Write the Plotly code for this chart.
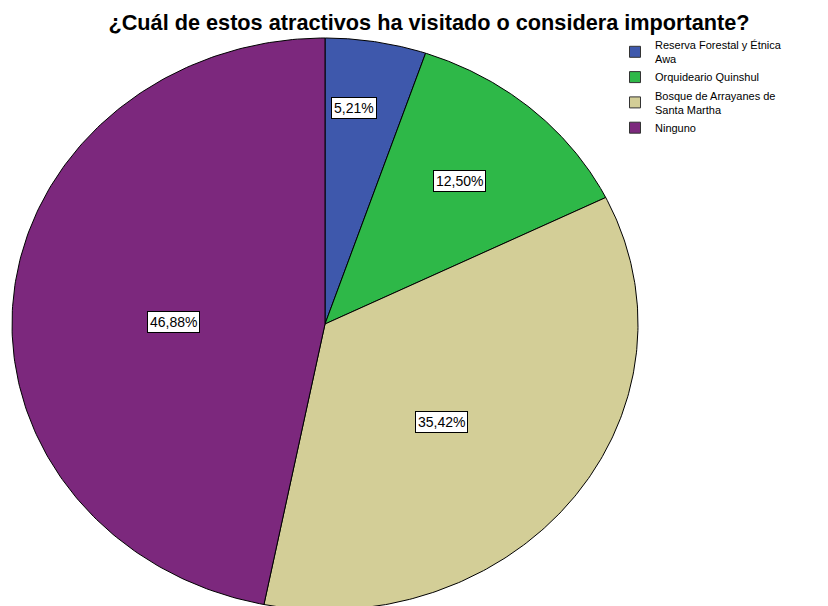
import numpy as np
import plotly.graph_objects as go

# ---- data ----
categories = ["Reserva Forestal y Étnica<br>Awa", "Orquideario Quinshul",
              "Bosque de Arrayanes de<br>Santa Martha", "Ninguno"]
counts = [5, 12, 34, 45]
pct_labels = ["5,21%", "12,50%", "35,42%", "46,88%"]
colors = ["#3E58AC", "#2EB848", "#D3CE97", "#7C287D"]

# ---- geometry (screen pixel space; page has an 8px body offset) ----
W, H = 828, 606
OFF = 8
CX, CY, RX, RY = 325, 324, 313, 286
label_fx = [0.57, 0.65, 0.47, 0.485]
label_fy = [0.765, 0.665, 0.563, 0.072]

total = float(sum(counts))
fracs = [c / total for c in counts]

fig = go.Figure()
start = 0.0
annotations = []
for name, f, col, lab, fx, fy in zip(categories, fracs, colors, pct_labels, label_fx, label_fy):
    a0 = start * 2 * np.pi
    a1 = (start + f) * 2 * np.pi
    t = np.linspace(a0, a1, 200)
    xs = np.concatenate([[CX], CX + RX * np.sin(t), [CX]])
    ys = np.concatenate([[CY], CY - RY * np.cos(t), [CY]])
    fig.add_trace(go.Scatter(x=xs, y=ys, mode="lines", fill="toself",
                             fillcolor=col, line=dict(color="black", width=1),
                             showlegend=False, hoverinfo="skip"))
    mid = (a0 + a1) / 2
    annotations.append(dict(x=CX + fx * RX * np.sin(mid), y=CY - fy * RY * np.cos(mid),
                            xref="x", yref="y", text=lab, showarrow=False,
                            font=dict(family="Liberation Sans, Arial", size=14, color="black"),
                            bgcolor="white", bordercolor="black", borderwidth=1, borderpad=2))
    start += f

# legend entries
for name, col in zip(categories, colors):
    fig.add_trace(go.Scatter(x=[None], y=[None], mode="markers", name=name,
                             marker=dict(symbol="square", size=11, color=col,
                                         line=dict(color="#333333", width=1))))

fig.update_layout(
    width=W, height=H, autosize=False,
    margin=dict(l=0, r=0, t=0, b=0),
    paper_bgcolor="white", plot_bgcolor="white",
    xaxis=dict(range=[OFF, W + OFF], visible=False, fixedrange=True),
    yaxis=dict(range=[H + OFF, OFF], visible=False, fixedrange=True),
    title=dict(text="<b>¿Cuál de estos atractivos ha visitado o considera importante?</b>",
               x=(429 - OFF) / W, xanchor="center", y=1 - (22 - OFF) / H, yanchor="middle",
               yref="container",
               font=dict(family="Liberation Sans, Arial", size=21.7, color="black")),
    legend=dict(x=(655 - OFF - 40) / W, xanchor="left", y=1 - (31 - OFF) / H, yanchor="top",
                font=dict(family="Liberation Sans, Arial", size=11, color="black"),
                bgcolor="rgba(0,0,0,0)", tracegroupgap=0, itemwidth=30),
    annotations=annotations,
)

fig.write_html("out.html")
